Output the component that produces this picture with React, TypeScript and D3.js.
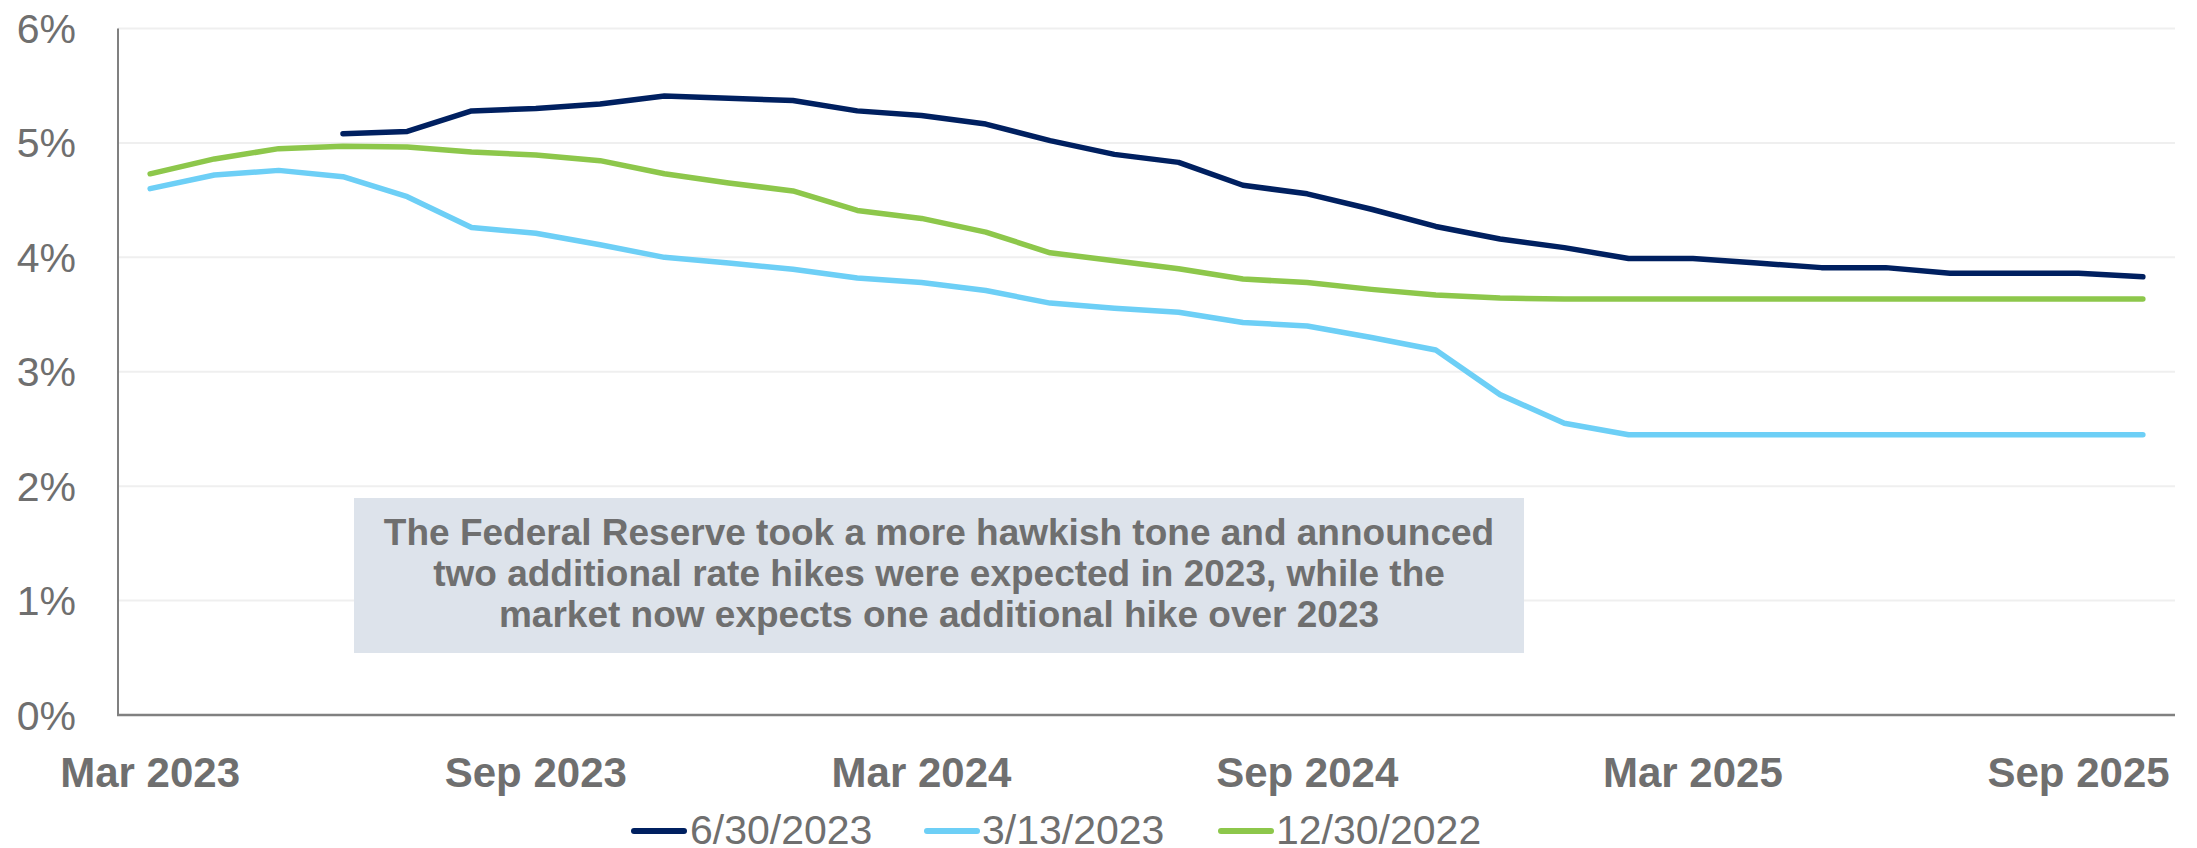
import React from "react";
import * as d3 from "d3";

const months: string[] = [
  "Mar 2023","Apr 2023","May 2023","Jun 2023","Jul 2023","Aug 2023","Sep 2023","Oct 2023","Nov 2023","Dec 2023",
  "Jan 2024","Feb 2024","Mar 2024","Apr 2024","May 2024","Jun 2024","Jul 2024","Aug 2024","Sep 2024","Oct 2024",
  "Nov 2024","Dec 2024","Jan 2025","Feb 2025","Mar 2025","Apr 2025","May 2025","Jun 2025","Jul 2025","Aug 2025",
  "Sep 2025","Oct 2025",
];

const tickLabels: string[] = ["Mar 2023", "Sep 2023", "Mar 2024", "Sep 2024", "Mar 2025", "Sep 2025"];
const yTicks: number[] = [0, 1, 2, 3, 4, 5, 6];

// 6/30/2023 (starts Jun 2023)
const series0630: (number | null)[] = [
  null, null, null, 5.08, 5.10, 5.28, 5.30, 5.34, 5.41, 5.39,
  5.37, 5.28, 5.24, 5.165, 5.02, 4.90, 4.83, 4.63, 4.555, 4.42,
  4.27, 4.16, 4.085, 3.99, 3.99, 3.95, 3.91, 3.91, 3.86, 3.86,
  3.86, 3.83,
];
// 3/13/2023
const series0313: number[] = [
  4.60, 4.72, 4.76, 4.705, 4.53, 4.26, 4.21, 4.11, 4.00, 3.95,
  3.895, 3.82, 3.78, 3.71, 3.60, 3.555, 3.52, 3.43, 3.40, 3.30,
  3.19, 2.80, 2.55, 2.45, 2.45, 2.45, 2.45, 2.45, 2.45, 2.45,
  2.45, 2.45,
];
// 12/30/2022
const series1230: number[] = [
  4.73, 4.86, 4.95, 4.97, 4.965, 4.92, 4.895, 4.845, 4.73, 4.65,
  4.58, 4.41, 4.34, 4.22, 4.04, 3.97, 3.90, 3.81, 3.78, 3.72,
  3.67, 3.645, 3.635, 3.635, 3.635, 3.635, 3.635, 3.635, 3.635, 3.635,
  3.635, 3.635,
];

const seriesNames: string[] = ["6/30/2023", "3/13/2023", "12/30/2022"];
const seriesColors: string[] = ["#002060", "#6dcff6", "#8dc74b"];
const annotationLines: string[] = [
  "The Federal Reserve took a more hawkish tone and announced",
  "two additional rate hikes were expected in 2023, while the",
  "market now expects one additional hike over 2023",
];

const W = 2197;
const H = 848;
const FONT = "'Liberation Sans', Arial, Helvetica, sans-serif";
const TEXT = "#6f6f6f";

export default function App() {
  const x = d3.scaleBand<string>().domain(months).range([118, 2175]).padding(0);
  const y = d3.scaleLinear().domain([0, 6]).range([715, 28.5]);
  const cx = (m: string) => (x(m) ?? 0) + x.bandwidth() / 2;

  const allSeries = [series0630, series0313, series1230];
  const line = d3
    .line<number | null>()
    .defined((d) => d !== null)
    .x((_, i) => cx(months[i]))
    .y((d) => y(d as number));

  const legendItems = [
    { sx: 631, tx: 690 },
    { sx: 924, tx: 982 },
    { sx: 1218, tx: 1276 },
  ];

  return (
    <div style={{ position: "absolute", left: 0, top: 0 }}>
      <svg width={W} height={H} style={{ display: "block", background: "#fff" }}>
        {yTicks.map((t) =>
          t === 0 ? null : (
            <line key={"g" + t} x1={118} x2={2175} y1={y(t)} y2={y(t)} stroke="#efefef" strokeWidth={2} />
          )
        )}
        <rect x={354} y={498} width={1170} height={155} fill="#dde3eb" />
        {annotationLines.map((l, i) => (
          <text
            key={"a" + i}
            x={939}
            y={545 + i * 41}
            textAnchor="middle"
            fontFamily={FONT}
            fontWeight="bold"
            fontSize={37}
            fill={TEXT}
          >
            {l}
          </text>
        ))}
        <line x1={118} x2={118} y1={y(6)} y2={y(0)} stroke="#808080" strokeWidth={2} />
        <line x1={117} x2={2175} y1={y(0)} y2={y(0)} stroke="#808080" strokeWidth={2.5} />
        {yTicks.map((t) => (
          <text
            key={"y" + t}
            x={76}
            y={y(t) + 14.5}
            textAnchor="end"
            fontFamily={FONT}
            fontSize={41}
            fill={TEXT}
          >
            {t + "%"}
          </text>
        ))}
        {tickLabels.map((m) => (
          <text
            key={"x" + m}
            x={cx(m)}
            y={787}
            textAnchor="middle"
            fontFamily={FONT}
            fontWeight="bold"
            fontSize={42}
            fill={TEXT}
          >
            {m}
          </text>
        ))}
        {[2, 1, 0].map((k) => (
          <path
            key={"s" + k}
            d={line(allSeries[k] as (number | null)[]) ?? ""}
            fill="none"
            stroke={seriesColors[k]}
            strokeWidth={5.5}
            strokeLinejoin="round"
            strokeLinecap="round"
          />
        ))}
        {seriesNames.map((n, i) => (
          <g key={"l" + n}>
            <line
              x1={legendItems[i].sx + 3}
              x2={legendItems[i].sx + 53}
              y1={831}
              y2={831}
              stroke={seriesColors[i]}
              strokeWidth={6}
              strokeLinecap="round"
            />
            <text x={legendItems[i].tx} y={844} fontFamily={FONT} fontSize={41} fill={TEXT}>
              {n}
            </text>
          </g>
        ))}
      </svg>
    </div>
  );
}
